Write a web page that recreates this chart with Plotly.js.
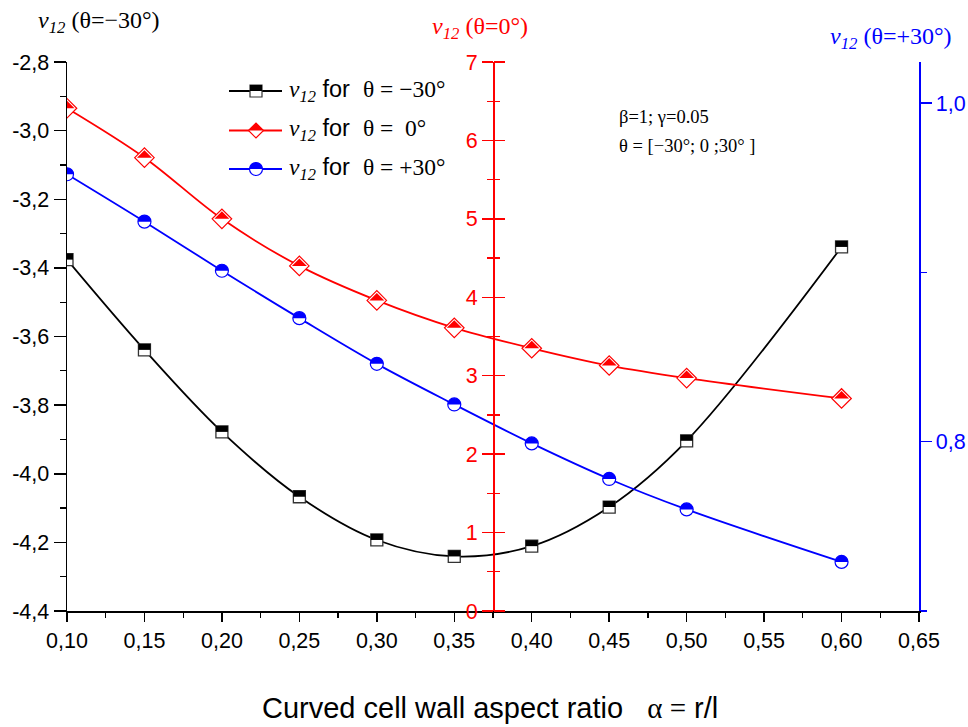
<!DOCTYPE html>
<html><head><meta charset="utf-8">
<script src="https://cdn.plot.ly/plotly-3.0.1.min.js"></script>
<style>html,body{margin:0;padding:0;background:#fff;} #chart{width:968px;height:727px;}</style>
</head><body><div id="chart"></div>
<script>
// ---- data ----
const alpha = [0.10, 0.15, 0.20, 0.25, 0.30, 0.35, 0.40, 0.45, 0.50, 0.60];
const nuMinus30 = [-3.376, -3.639, -3.878, -4.067, -4.193, -4.241, -4.211, -4.097, -3.904, -3.339];
const nuZero = [6.41, 5.78, 5.00, 4.40, 3.96, 3.61, 3.35, 3.13, 2.97, 2.71];
const nuPlus30 = [0.958, 0.930, 0.901, 0.873, 0.846, 0.822, 0.799, 0.778, 0.760, 0.729];

const xTickVals = [0.10, 0.15, 0.20, 0.25, 0.30, 0.35, 0.40, 0.45, 0.50, 0.55, 0.60, 0.65];
const xTickText = ['0,10', '0,15', '0,20', '0,25', '0,30', '0,35', '0,40', '0,45', '0,50', '0,55', '0,60', '0,65'];
const leftTickVals = [-2.8, -3.0, -3.2, -3.4, -3.6, -3.8, -4.0, -4.2, -4.4];
const leftTickText = ['-2,8', '-3,0', '-3,2', '-3,4', '-3,6', '-3,8', '-4,0', '-4,2', '-4,4'];
const redTickVals = [0, 1, 2, 3, 4, 5, 6, 7];
const redTickText = ['0', '1', '2', '3', '4', '5', '6', '7'];
const blueTickVals = [0.8, 1.0];
const blueTickText = ['0,8', '1,0'];

const seriesNames = ['θ = −30°', 'θ =  0°', 'θ = +30°'];

// ---- layout geometry ----
const W = 968, H = 727;
const M = {l: 67, r: 49, t: 62, b: 116};
const PW = W - M.l - M.r, PH = H - M.t - M.b;
const px = x => (x - M.l) / PW;
const py = y => (M.t + PH - y) / PH;

const serif = 'Liberation Serif, Times New Roman, serif';
const sans = 'Liberation Sans, Arial, sans-serif';

// half-filled marker paths (pixel units, y up)
const k = 0.5523;
function squareFull(s){return `M${-s},${-s} L${s},${-s} L${s},${s} L${-s},${s} Z`;}
function squareTop(s){return `M${-s},0 L${s},0 L${s},${s} L${-s},${s} Z`;}
function diamondFull(s){return `M${-s},0 L0,${s} L${s},0 L0,${-s} Z`;}
function diamondTop(s){return `M${-s},0 L${s},0 L0,${s} Z`;}
function circleFull(r){const c=k*r;return `M${-r},0 C${-r},${c} ${-c},${r} 0,${r} C${c},${r} ${r},${c} ${r},0 C${r},${-c} ${c},${-r} 0,${-r} C${-c},${-r} ${-r},${-c} ${-r},0 Z`;}
function circleTop(r){const c=k*r;return `M${-r},0 C${-r},${c} ${-c},${r} 0,${r} C${c},${r} ${r},${c} ${r},0 Z`;}

const styles = [
  {color: 'black', edge: '#333', top: squareTop(6), full: squareFull(6), yref: 'y', ys: nuMinus30},
  {color: 'red', edge: 'red', top: diamondTop(7.5), full: diamondFull(7.5), yref: 'y2', ys: nuZero},
  {color: 'blue', edge: 'blue', top: circleTop(6.5), full: circleFull(6.5), yref: 'y3', ys: nuPlus30}
];

const traces = [
  {x: alpha, y: nuMinus30, yaxis: 'y', mode: 'lines+markers', name: seriesNames[0],
   line: {color: 'black', width: 1.8, shape: 'spline', smoothing: 1},
   marker: {symbol: 'square', size: 12, color: 'white', line: {color: '#333', width: 1.3}}, showlegend: false},
  {x: alpha, y: nuZero, yaxis: 'y2', mode: 'lines+markers', name: seriesNames[1],
   line: {color: 'red', width: 1.8, shape: 'spline', smoothing: 1},
   marker: {symbol: 'diamond', size: 15, color: 'white', line: {color: 'red', width: 1.2}}, showlegend: false},
  {x: alpha, y: nuPlus30, yaxis: 'y3', mode: 'lines+markers', name: seriesNames[2],
   line: {color: 'blue', width: 1.8, shape: 'spline', smoothing: 1},
   marker: {symbol: 'circle', size: 13, color: 'white', line: {color: 'blue', width: 1.2}}, showlegend: false},
  {x: [null], y: [null], yaxis: 'y4', mode: 'markers', showlegend: false, hoverinfo: 'skip'}
];

const shapes = [];
styles.forEach(s => {
  alpha.forEach((a, i) => {
    shapes.push({type: 'path', xref: 'x', yref: s.yref, xsizemode: 'pixel', ysizemode: 'pixel',
      xanchor: a, yanchor: s.ys[i], path: s.top, fillcolor: s.color, line: {width: 0}, layer: 'above'});
  });
});

// custom legend
const legRowsY = [91, 130.5, 169];
const annotations = [];
styles.forEach((s, i) => {
  const yP = py(legRowsY[i]);
  shapes.push({type: 'line', xref: 'paper', yref: 'paper', x0: px(229), x1: px(282), y0: yP, y1: yP,
    line: {color: s.color, width: 1.8}, layer: 'above'});
  shapes.push({type: 'path', xref: 'paper', yref: 'paper', xsizemode: 'pixel', ysizemode: 'pixel',
    xanchor: px(256), yanchor: yP, path: s.full, fillcolor: 'white', line: {color: s.edge, width: 1.2}, layer: 'above'});
  shapes.push({type: 'path', xref: 'paper', yref: 'paper', xsizemode: 'pixel', ysizemode: 'pixel',
    xanchor: px(256), yanchor: yP, path: s.top, fillcolor: s.color, line: {width: 0}, layer: 'above'});
  annotations.push({xref: 'paper', yref: 'paper', x: px(287), y: yP, xanchor: 'left', yanchor: 'middle', showarrow: false,
    text: `<span style="font-family:${serif}"><i>ν</i><sub><i>12</i></sub></span> for  <span style="font-family:${serif}">${seriesNames[i]}</span>`,
    font: {family: sans, size: 23.5, color: 'black'}});
});

// axis titles & notes
annotations.push({xref: 'paper', yref: 'paper', x: px(99), y: py(22), xanchor: 'center', yanchor: 'middle', showarrow: false,
  text: '<i>ν</i><sub><i>12</i></sub> (θ=−30°)', font: {family: serif, size: 24, color: 'black'}});
annotations.push({xref: 'paper', yref: 'paper', x: px(480), y: py(28), xanchor: 'center', yanchor: 'middle', showarrow: false,
  text: '<i>ν</i><sub><i>12</i></sub> (θ=0°)', font: {family: serif, size: 24, color: 'red'}});
annotations.push({xref: 'paper', yref: 'paper', x: px(891), y: py(38), xanchor: 'center', yanchor: 'middle', showarrow: false,
  text: '<i>ν</i><sub><i>12</i></sub> (θ=+30°)', font: {family: serif, size: 24, color: 'blue'}});
annotations.push({xref: 'paper', yref: 'paper', x: px(617), y: py(117), xanchor: 'left', yanchor: 'middle', showarrow: false,
  text: 'β=1; γ=0.05', font: {family: serif, size: 18.5, color: 'black'}});
annotations.push({xref: 'paper', yref: 'paper', x: px(617), y: py(146), xanchor: 'left', yanchor: 'middle', showarrow: false,
  text: 'θ = [−30°; 0 ;30° ]', font: {family: serif, size: 18.5, color: 'black'}});
annotations.push({xref: 'paper', yref: 'paper', x: px(490), y: py(708), xanchor: 'center', yanchor: 'middle', showarrow: false,
  text: `Curved cell wall aspect ratio   <span style="font-family:${serif}">α =</span> r/l`, font: {family: sans, size: 29, color: 'black'}});

const tickFont = c => ({family: sans, size: 21.5, color: c});

const layout = {
  width: W, height: H, margin: M, paper_bgcolor: 'white', plot_bgcolor: 'white', showlegend: false,
  xaxis: {domain: [0, 1], range: [0.10, 0.65], tickmode: 'array', tickvals: xTickVals, ticktext: xTickText,
    ticks: 'outside', ticklen: 9, tickwidth: 1.5, tickcolor: 'black', showline: true, linewidth: 2, linecolor: 'black',
    showgrid: false, zeroline: false, tickfont: tickFont('black'),
    minor: {dtick: 0.025, tick0: 0.1, ticks: 'outside', ticklen: 5, tickwidth: 1.3, tickcolor: 'black', showgrid: false}},
  yaxis: {range: [-4.4, -2.8], side: 'left', tickmode: 'array', tickvals: leftTickVals, ticktext: leftTickText,
    ticks: 'outside', ticklen: 12, tickwidth: 1.5, tickcolor: 'black', showline: true, linewidth: 1.5, linecolor: 'black',
    showgrid: false, zeroline: false, tickfont: tickFont('black'),
    minor: {dtick: 0.1, tick0: -4.4, ticks: 'outside', ticklen: 6, tickwidth: 1.3, tickcolor: 'black', showgrid: false}},
  yaxis2: {overlaying: 'y', anchor: 'free', position: 0.5, side: 'left', range: [0, 7], tickmode: 'array',
    tickvals: redTickVals, ticktext: redTickText, ticks: 'outside', ticklen: 11, tickwidth: 1.5, tickcolor: 'red',
    showline: true, linewidth: 1.5, linecolor: 'red', showgrid: false, zeroline: false, tickfont: tickFont('red'),
    minor: {dtick: 0.5, tick0: 0, ticks: 'outside', ticklen: 6, tickwidth: 1.3, tickcolor: 'red', showgrid: false}},
  yaxis4: {overlaying: 'y', anchor: 'free', position: 0.5, side: 'right', range: [0, 7], tickmode: 'array',
    tickvals: redTickVals, ticks: 'outside', ticklen: 11, tickwidth: 1.5, tickcolor: 'red', showticklabels: false,
    showline: false, showgrid: false, zeroline: false,
    minor: {dtick: 0.5, tick0: 0, ticks: 'outside', ticklen: 6, tickwidth: 1.3, tickcolor: 'red', showgrid: false}},
  yaxis3: {overlaying: 'y', anchor: 'x', side: 'right', range: [0.7, 1.0243], tickmode: 'array',
    tickvals: blueTickVals, ticktext: blueTickText, ticks: 'outside', ticklen: 11, tickwidth: 1.5, tickcolor: 'blue',
    showline: true, linewidth: 1.5, linecolor: 'blue', showgrid: false, zeroline: false, tickfont: tickFont('blue'),
    minor: {dtick: 0.1, tick0: 0.7, ticks: 'outside', ticklen: 6, tickwidth: 1.3, tickcolor: 'blue', showgrid: false}},
  shapes: shapes,
  annotations: annotations
};

Plotly.newPlot('chart', traces, layout, {displayModeBar: false, staticPlot: true});
</script>
</body></html>
